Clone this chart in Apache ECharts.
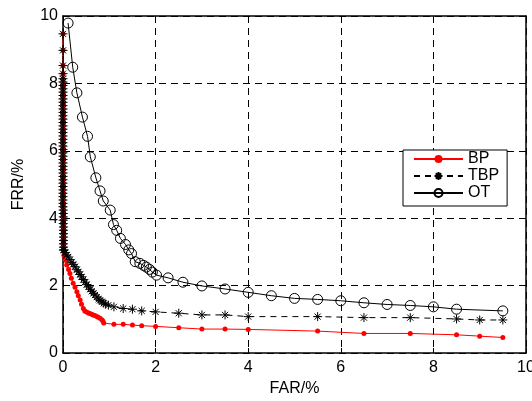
<!DOCTYPE html>
<html>
<head>
<meta charset="utf-8">
<script src="https://cdn.jsdelivr.net/npm/echarts@6/dist/echarts.min.js"></script>
<style>html,body{margin:0;padding:0;background:#fff}#c{width:532px;height:401px}</style>
</head>
<body>
<div id="c"></div>
<script>
// Axis ticks
const xTicks = [0, 2, 4, 6, 8, 10];
const yTicks = [0, 2, 4, 6, 8, 10];
const xAxisName = 'FAR/%';
const yAxisName = 'FRR/%';
const seriesNames = ['BP', 'TBP', 'OT'];

// Dense column of points at FAR ~ 0 shared by BP and TBP
const zeroColFAR = [0,0,0,0,0,0,0,0,0,0,0,0,0,0,0,0,0,0,0,0,0,0,0,0,0,0,0,0,0,0,0,0,0,0,0,0,0,0,0,0,0,0,0,0.005,0.005,0.005,0.005,0.005,0.01,0.01,0.01,0.01,0.01,0.01,0.01,0.01];
const zeroColFRR = [9.47,8.98,8.53,8.29,8.14,8.04,7.94,7.84,7.74,7.64,7.54,7.44,7.34,7.24,7.14,7.04,6.94,6.84,6.74,6.64,6.54,6.44,6.34,6.24,6.14,6.04,5.94,5.84,5.74,5.64,5.54,5.44,5.34,5.24,5.14,5.04,4.94,4.84,4.74,4.64,4.54,4.44,4.34,4.24,4.14,4.04,3.94,3.84,3.74,3.64,3.54,3.44,3.34,3.24,3.14,3.06];

// BP (after the column)
const bpFAR = [0.02,0.05,0.08,0.12,0.15,0.18,0.22,0.26,0.30,0.33,0.37,0.40,0.44,0.47,0.51,0.55,0.58,0.62,0.65,0.69,0.73,0.76,0.80,0.84,0.86,0.88,1.1,1.3,1.5,1.7,2.0,2.5,3.0,3.5,4.0,5.5,6.5,7.5,8.5,9.0,9.5];
const bpFRR = [2.90,2.75,2.61,2.48,2.36,2.22,2.07,1.95,1.82,1.70,1.57,1.45,1.32,1.25,1.22,1.19,1.17,1.15,1.13,1.11,1.08,1.06,1.03,0.99,0.95,0.89,0.85,0.85,0.83,0.81,0.79,0.75,0.71,0.71,0.70,0.65,0.58,0.58,0.54,0.50,0.46];

// TBP (after the column)
const tbpFAR = [0.02,0.05,0.08,0.11,0.15,0.19,0.22,0.26,0.30,0.33,0.37,0.40,0.44,0.48,0.51,0.55,0.59,0.62,0.66,0.69,0.73,0.77,0.80,0.84,0.88,0.92,0.98,1.1,1.3,1.5,1.7,2.0,2.5,3.0,3.5,4.0,5.5,6.5,7.5,8.5,9.0,9.5];
const tbpFRR = [3.05,2.98,2.91,2.85,2.77,2.69,2.63,2.56,2.47,2.41,2.33,2.26,2.18,2.10,2.03,1.96,1.89,1.83,1.77,1.72,1.66,1.60,1.56,1.52,1.48,1.45,1.42,1.37,1.32,1.30,1.25,1.22,1.18,1.13,1.13,1.08,1.08,1.05,1.05,1.01,0.98,0.98];

// OT
const otFAR = [0.11,0.21,0.30,0.42,0.53,0.59,0.71,0.80,0.87,1.02,1.09,1.16,1.24,1.35,1.42,1.48,1.56,1.66,1.74,1.80,1.87,1.93,2.02,2.27,2.59,3.0,3.5,4.0,4.5,5.0,5.5,6.0,6.5,7.0,7.5,8.0,8.5,9.5];
const otFRR = [9.79,8.48,7.72,7.00,6.43,5.82,5.20,4.81,4.51,4.24,3.81,3.64,3.40,3.22,3.06,2.95,2.71,2.66,2.60,2.55,2.48,2.40,2.31,2.23,2.10,1.99,1.90,1.80,1.70,1.62,1.59,1.55,1.49,1.44,1.41,1.37,1.30,1.25];

const pairs = (xs, ys) => xs.map((x, i) => [x, ys[i]]);
const colPairs = pairs(zeroColFAR, zeroColFRR);
const bpData = colPairs.concat(pairs(bpFAR, bpFRR));
const tbpData = colPairs.concat(pairs(tbpFAR, tbpFRR));
const otData = pairs(otFAR, otFRR);

const FONT = 'Liberation Sans, Arial, sans-serif';
const star = 'path://M0,5L10,5M5,0L5,10M1.6,1.6L8.4,8.4M8.4,1.6L1.6,8.4';

const chart = echarts.init(document.getElementById('c'), null, {renderer: 'canvas'});
const axisCommon = {
  type: 'value', min: xTicks[0], max: xTicks[xTicks.length - 1], interval: 2,
};
chart.setOption({
  animation: false,
  backgroundColor: '#fff',
  grid: {left: 63, right: 6, top: 16, bottom: 48, containLabel: false, outerBoundsMode: 'none'},
  legend: {
    data: seriesNames,
    orient: 'vertical',
    left: 403, top: 150,
    itemWidth: 49, itemHeight: 10, itemGap: 1,
    padding: [1, 8, 5, 10],
    backgroundColor: '#fff',
    borderColor: '#000', borderWidth: 1,
    textStyle: {fontFamily: FONT, fontSize: 16, color: '#000', lineHeight: 16},
  },
  xAxis: [
    Object.assign({}, axisCommon, {
      position: 'bottom',
      name: xAxisName, nameLocation: 'middle', nameGap: 28,
      nameTextStyle: {fontFamily: FONT, fontSize: 16, color: '#000'},
      axisLine: {show: true, onZero: false, lineStyle: {color: '#000', width: 1.5}},
      axisTick: {show: true, inside: true, length: 5, lineStyle: {color: '#000'}},
      axisLabel: {fontFamily: FONT, fontSize: 16, color: '#000', margin: 7, alignMinLabel: 'center', alignMaxLabel: 'center', hideOverlap: false},
      splitLine: {show: true, lineStyle: {color: '#000', type: [7, 5], width: 1}},
    }),
    Object.assign({}, axisCommon, {
      position: 'top',
      axisLine: {show: true, onZero: false, lineStyle: {color: '#000', width: 1.5}},
      axisTick: {show: true, inside: true, length: 5, lineStyle: {color: '#000'}},
      axisLabel: {show: false},
      splitLine: {show: false},
    }),
  ],
  yAxis: [
    {
      type: 'value', min: yTicks[0], max: yTicks[yTicks.length - 1], interval: 2,
      position: 'left',
      name: yAxisName, nameLocation: 'middle', nameGap: 36, nameRotate: 90,
      nameTextStyle: {fontFamily: FONT, fontSize: 16, color: '#000'},
      axisLine: {show: true, onZero: false, lineStyle: {color: '#000', width: 1.5}},
      axisTick: {show: true, inside: true, length: 5, lineStyle: {color: '#000'}},
      axisLabel: {fontFamily: FONT, fontSize: 16, color: '#000', margin: 5},
      splitLine: {show: true, lineStyle: {color: '#000', type: [7, 5], width: 1}},
    },
    {
      type: 'value', min: yTicks[0], max: yTicks[yTicks.length - 1], interval: 2,
      position: 'right',
      axisLine: {show: true, onZero: false, lineStyle: {color: '#000', width: 1.5}},
      axisTick: {show: true, inside: true, length: 5, lineStyle: {color: '#000'}},
      axisLabel: {show: false},
      splitLine: {show: false},
    }
  ],
  series: [
    {
      name: 'BP', type: 'line', data: bpData, xAxisIndex: 0, yAxisIndex: 0,
      symbol: 'circle', symbolSize: 5,
      itemStyle: {color: '#ff0000'},
      lineStyle: {color: '#ff0000', width: 1},
      z: 2,
    },
    {
      name: 'TBP', type: 'line', data: tbpData, xAxisIndex: 0, yAxisIndex: 0,
      symbol: star, symbolSize: 9, symbolKeepAspect: true,
      itemStyle: {color: 'none', borderColor: '#000', borderWidth: 1},
      lineStyle: {color: '#000', width: 1, type: [6, 5]},
      z: 3,
    },
    {
      name: 'OT', type: 'line', data: otData, xAxisIndex: 0, yAxisIndex: 0,
      symbol: 'circle', symbolSize: 10,
      itemStyle: {color: 'rgba(0,0,0,0)', borderColor: '#000', borderWidth: 1},
      lineStyle: {color: '#000', width: 1},
      z: 4,
    },
  ],
});
</script>
</body>
</html>
